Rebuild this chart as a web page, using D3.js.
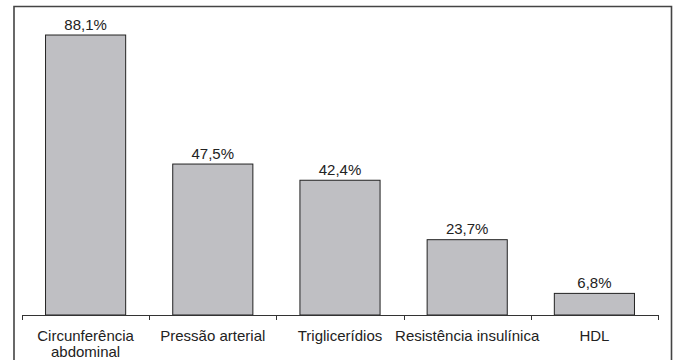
<!DOCTYPE html>
<html><head><meta charset="utf-8">
<script src="https://cdn.jsdelivr.net/npm/d3@7"></script>
<style>body{margin:0;background:#fff}svg{display:block}</style>
</head><body>
<script>
const categories = [["Circunferência","abdominal"],["Pressão arterial"],["Triglicerídios"],["Resistência insulínica"],["HDL"]];
const values = [88.1, 47.5, 42.4, 23.7, 6.8];
const valueLabels = ["88,1%","47,5%","42,4%","23,7%","6,8%"];

const W = 676, H = 360;
const svg = d3.select("body").append("svg").attr("width", W).attr("height", H);
const font = "'Liberation Sans', Arial, sans-serif";

// frame
svg.append("path").attr("d", "M14,362 V6.5 H671.5 V362")
  .attr("fill", "none").attr("stroke", "#444").attr("stroke-width", 1.6);

const x = d3.scaleBand().domain(d3.range(values.length)).range([22, 658]).paddingInner(0).paddingOuter(0);
const y = d3.scaleLinear().domain([0, 100]).range([315, -2.8]);
const bw = x.bandwidth() * 0.63;

svg.selectAll("rect.bar").data(values).enter().append("rect")
  .attr("x", (d, i) => x(i) + (x.bandwidth() - bw) / 2)
  .attr("y", d => y(d))
  .attr("width", bw)
  .attr("height", d => y(0) - y(d))
  .attr("fill", "#bfbfc3").attr("stroke", "#222").attr("stroke-width", 1);

svg.selectAll("text.val").data(values).enter().append("text")
  .attr("x", (d, i) => x(i) + x.bandwidth() / 2)
  .attr("y", d => y(d) - 5.5)
  .attr("text-anchor", "middle").attr("font-family", font).attr("font-size", 15).attr("fill", "#222")
  .text((d, i) => valueLabels[i]);

// axis
const ax = svg.append("g").attr("stroke", "#333").attr("stroke-width", 1);
ax.append("line").attr("x1", 22).attr("x2", 658).attr("y1", 315.5).attr("y2", 315.5);
const tickPos = d3.range(values.length).map(i => x(i)).concat([658]);
ax.selectAll("line.t").data(tickPos).enter().append("line")
  .attr("x1", d => Math.round(d) + 0.5).attr("x2", d => Math.round(d) + 0.5)
  .attr("y1", 315).attr("y2", 320);

const lab = svg.selectAll("text.cat").data(categories).enter().append("text")
  .attr("x", (d, i) => x(i) + x.bandwidth() / 2)
  .attr("y", 341)
  .attr("text-anchor", "middle").attr("font-family", font).attr("font-size", 15).attr("fill", "#222");
lab.selectAll("tspan").data(d => d).enter().append("tspan")
  .attr("x", function(){ return this.parentNode.getAttribute("x"); })
  .attr("dy", (d, j) => j === 0 ? 0 : 16)
  .text(d => d);
</script>
</body></html>
